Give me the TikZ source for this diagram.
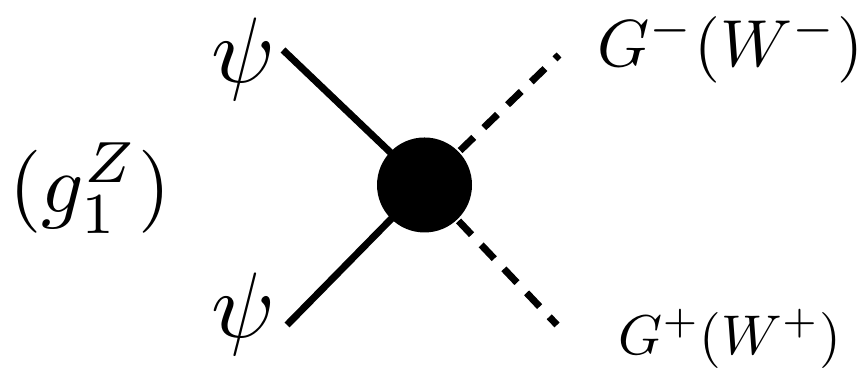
\documentclass[tikz,border=0pt]{standalone}
\begin{document}
\begin{tikzpicture}[x=0.1pt,y=-0.1pt,
  fermion/.style={line width=0.7pt},
  scalar/.style={line width=0.7pt,dash pattern=on 1.9pt off 1.4pt},
  blob/.style={circle,fill=black,minimum size=9.5pt,inner sep=0pt},
  psilbl/.style={scale=0.93,inner sep=0pt},
  coupl/.style={scale=0.83,inner sep=0pt},
  outtop/.style={scale=0.665,inner sep=0pt},
  outbot/.style={scale=0.56,inner sep=0pt}]
\useasboundingbox (0,0) rectangle (867,372);

% vertex
\node[blob] (V) at (424.5,185) {};

% labels
\node[psilbl] (psiT) at (243,59) {$\psi$};
\node[psilbl] (psiB) at (243,314) {$\psi$};
\node[coupl] (gZ) at (90,188) {$(g_1^Z)$};
\node[outtop] (Gm) at (730,48) {$G^-(W^-)$};
\node[outbot] (Gp) at (730,339) {$G^+(W^+)$};

% free ends of the legs
\coordinate (inT) at (283,50);
\coordinate (inB) at (287,325);
\coordinate (outT) at (559,55);
\coordinate (outB) at (557,325);

\draw[fermion] (inT) -- (V.center);
\draw[fermion] (inB) -- (V.center);
\draw[scalar] (V) -- (outT);
\draw[scalar] (V) -- (outB);

\end{tikzpicture}
\end{document}
